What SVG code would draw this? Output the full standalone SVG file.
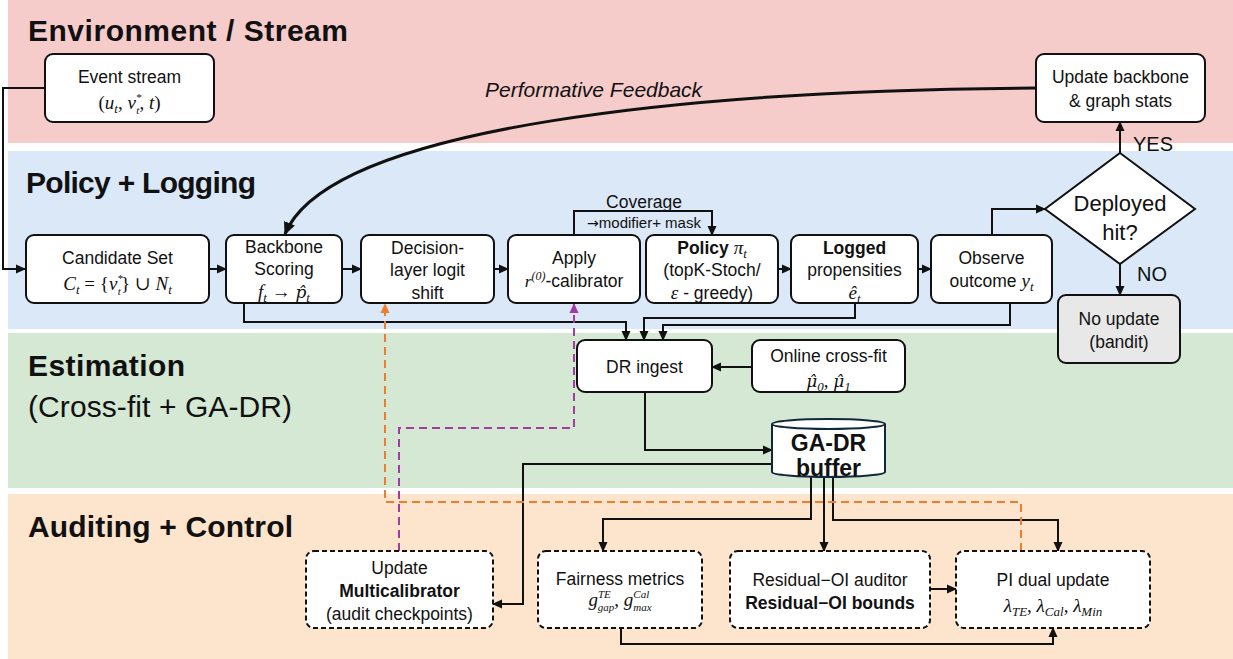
<svg xmlns="http://www.w3.org/2000/svg" width="1233" height="659" viewBox="0 0 1233 659">
<defs>
<style>
.t{font-family:"Liberation Sans",Arial,sans-serif;font-size:17.5px;fill:#111;text-anchor:middle}
.b{font-weight:bold}
.title{font-family:"Liberation Sans",Arial,sans-serif;font-size:30px;font-weight:bold;fill:#111}
.m{font-family:"Liberation Serif","DejaVu Serif",serif;font-style:italic;font-size:19px;fill:#111;text-anchor:middle}
.s{font-size:13px}
.x{font-size:11px}
.u{font-style:normal}
.h{font-family:"DejaVu Serif",serif;font-size:17px}
.box{fill:#fff;stroke:#111;stroke-width:2}
.dbox{fill:#fff;stroke:#111;stroke-width:2;stroke-dasharray:5 3}
.c{fill:none;stroke:#111;stroke-width:2}
.do{fill:none;stroke:#ED7D31;stroke-width:2;stroke-dasharray:8 5}
.dp{fill:none;stroke:#A33BA3;stroke-width:2;stroke-dasharray:8 5}
</style>
<marker id="a" viewBox="0 0 10 10" refX="9" refY="5" markerWidth="10" markerHeight="10" markerUnits="userSpaceOnUse" orient="auto"><path d="M0,0.5 L10,5 L0,9.5 Z" fill="#111"/></marker>
<marker id="ab" viewBox="0 0 10 10" refX="9" refY="5" markerWidth="13" markerHeight="13" markerUnits="userSpaceOnUse" orient="auto"><path d="M0,0.5 L10,5 L0,9.5 Z" fill="#111"/></marker>
<marker id="ao" viewBox="0 0 10 10" refX="9" refY="5" markerWidth="10" markerHeight="10" markerUnits="userSpaceOnUse" orient="auto"><path d="M0,0.5 L10,5 L0,9.5 Z" fill="#ED7D31"/></marker>
<marker id="ap" viewBox="0 0 10 10" refX="9" refY="5" markerWidth="10" markerHeight="10" markerUnits="userSpaceOnUse" orient="auto"><path d="M0,0.5 L10,5 L0,9.5 Z" fill="#A33BA3"/></marker>
</defs>

<g id="bands">
<rect x="8" y="0" width="1225" height="143" fill="#F6CCCB"/>
<rect x="8" y="151" width="1225" height="178" fill="#DAE8F8"/>
<rect x="8" y="333" width="1225" height="155" fill="#D5E8D4"/>
<rect x="8" y="494" width="1225" height="165" fill="#FDE4CC"/>
<text class="title" x="28" y="41" textLength="320">Environment / Stream</text>
<text class="title" x="26" y="193" textLength="230">Policy + Logging</text>
<text class="title" x="28" y="376" textLength="157">Estimation</text>
<text class="title" x="28" y="417" style="font-weight:normal" textLength="264">(Cross-fit + GA-DR)</text>
<text class="title" x="28" y="537" textLength="265">Auditing + Control</text>
</g>

<g id="connectors">
<path class="c" d="M45,88 H3 V269 H25" marker-end="url(#a)"/>
<path class="c" d="M209,269 H226" marker-end="url(#a)"/>
<path class="c" d="M342,269 H361" marker-end="url(#a)"/>
<path class="c" d="M494,269 H508" marker-end="url(#a)"/>
<path class="c" d="M574,235 V211 H712 V235" marker-end="url(#a)"/>
<path class="c" d="M778,269 H791" marker-end="url(#a)"/>
<path class="c" d="M918,269 H931" marker-end="url(#a)"/>
<path class="c" d="M992,235 V209 H1045" marker-end="url(#a)"/>
<path class="c" d="M1120,153 V122" marker-end="url(#a)"/>
<path class="c" d="M1120,264 V295" marker-end="url(#a)"/>
<path fill="none" stroke="#111" stroke-width="3" d="M1036,88 C700,90 330,125 285,234" marker-end="url(#ab)"/>
<path class="c" d="M244,303 V322 H626 V340" marker-end="url(#a)"/>
<path class="c" d="M855,303 V318 H644 V340" marker-end="url(#a)"/>
<path class="c" d="M1010,303 V325 H663 V340" marker-end="url(#a)"/>
<path class="c" d="M752,367 H712" marker-end="url(#a)"/>
<path class="c" d="M645,392 V450 H772" marker-end="url(#a)"/>
<path class="c" d="M772,464 H523 V604 H493" marker-end="url(#a)"/>
<path class="c" d="M811,477 V519 H603 V551" marker-end="url(#a)"/>
<path class="c" d="M824,477 V551" marker-end="url(#a)"/>
<path class="c" d="M833,477 V520 H1058 V551" marker-end="url(#a)"/>
<path class="c" d="M930,589 H956" marker-end="url(#a)"/>
<path class="c" d="M621,628 V644 H1053 V628" marker-end="url(#a)"/>
<path class="do" d="M1021,551 V502 H385 V304" marker-end="url(#ao)"/>
<path class="dp" d="M399,551 V428 H574 V304" marker-end="url(#ap)"/>
<text class="t" x="644" y="208">Coverage</text>
<text class="t" x="644" y="228" style="font-size:15px"><tspan style="font-family:'DejaVu Sans',sans-serif;font-size:14px">→</tspan>modifier+ mask</text>
<text x="485" y="97" style="font-family:'Liberation Sans',Arial,sans-serif;font-size:21px;font-style:italic;fill:#111">Performative Feedback</text>
<text x="1133" y="151" style="font-family:'Liberation Sans',Arial,sans-serif;font-size:20px;fill:#111">YES</text>
<text x="1137" y="281" style="font-family:'Liberation Sans',Arial,sans-serif;font-size:20px;fill:#111">NO</text>
</g>

<g id="event-stream">
<rect class="box" x="45" y="54" width="169" height="68" rx="8"/>
<text class="t" x="129.5" y="83">Event stream</text>
<text class="m" x="129.5" y="109"><tspan class="u">(</tspan>u<tspan class="s" dy="4">t</tspan><tspan class="u" dy="-4">, </tspan>v<tspan class="x" dy="-8">*</tspan><tspan class="x" dx="-5" dy="13">t</tspan><tspan class="u" dy="-5">, </tspan>t<tspan class="u">)</tspan></text>
</g>

<g id="update-backbone">
<rect class="box" x="1036" y="54" width="169" height="68" rx="8"/>
<text class="t" x="1120.5" y="83">Update backbone</text>
<text class="t" x="1120.5" y="107">&amp; graph stats</text>
</g>

<g id="candidate-set">
<rect class="box" x="26" y="235" width="183" height="68" rx="8"/>
<text class="t" x="117.5" y="264">Candidate Set</text>
<text class="m" x="117.5" y="290">C<tspan class="s" dy="4">t</tspan><tspan class="u" dy="-4"> = {</tspan>v<tspan class="x" dy="-8">*</tspan><tspan class="x" dx="-5" dy="13">t</tspan><tspan class="u" dy="-5">} ∪ </tspan>N<tspan class="s" dy="4">t</tspan></text>
</g>

<g id="backbone-scoring">
<rect class="box" x="226" y="235" width="116" height="68" rx="8"/>
<text class="t" x="284" y="253">Backbone</text>
<text class="t" x="284" y="275">Scoring</text>
<text class="m" x="284" y="298">f<tspan class="s" dy="4">t</tspan><tspan class="u" dy="-4"> → </tspan><tspan class="h">p̂</tspan><tspan class="s" dy="4">t</tspan></text>
</g>

<g id="decision-layer">
<rect class="box" x="361" y="235" width="133" height="68" rx="8"/>
<text class="t" x="427.5" y="254">Decision-</text>
<text class="t" x="427.5" y="276">layer logit</text>
<text class="t" x="427.5" y="299">shift</text>
</g>

<g id="apply-calibrator">
<rect class="box" x="508" y="235" width="132" height="68" rx="8"/>
<text class="t" x="574" y="264">Apply</text>
<text class="t" x="574" y="287"><tspan style="font-family:'Liberation Serif',serif;font-style:italic">r</tspan><tspan style="font-size:12px;font-family:'Liberation Serif',serif;font-style:italic" dy="-7">(0)</tspan><tspan dy="7">-calibrator</tspan></text>
</g>

<g id="policy">
<rect class="box" x="646" y="235" width="132" height="68" rx="8"/>
<text class="t" x="712" y="254"><tspan class="b">Policy </tspan><tspan style="font-family:'Liberation Serif',serif;font-style:italic;font-size:19px">π</tspan><tspan style="font-family:'Liberation Serif',serif;font-style:italic;font-size:13px" dy="4">t</tspan></text>
<text class="t" x="712" y="276">(topK-Stoch/</text>
<text class="t" x="712" y="299"><tspan style="font-family:'Liberation Serif',serif;font-style:italic;font-size:19px">ε</tspan> - greedy)</text>
</g>

<g id="logged-propensities">
<rect class="box" x="791" y="235" width="127" height="68" rx="8"/>
<text class="t b" x="854.5" y="254">Logged</text>
<text class="t" x="854.5" y="276">propensities</text>
<text class="m" x="854.5" y="299">ê<tspan class="s" dy="4">t</tspan></text>
</g>

<g id="observe-outcome">
<rect class="box" x="931" y="235" width="121" height="68" rx="8"/>
<text class="t" x="991.5" y="264">Observe</text>
<text class="t" x="991.5" y="287">outcome <tspan style="font-family:'Liberation Serif',serif;font-style:italic;font-size:19px">y</tspan><tspan style="font-family:'Liberation Serif',serif;font-style:italic;font-size:13px" dy="4">t</tspan></text>
</g>

<g id="deployed-hit">
<polygon points="1120,153 1195,209 1120,264 1045,209" fill="#fff" stroke="#111" stroke-width="2"/>
<text class="t" x="1120" y="211" style="font-size:22px">Deployed</text>
<text class="t" x="1120" y="240" style="font-size:22px">hit?</text>
</g>

<g id="no-update">
<rect x="1058" y="295" width="122" height="68" rx="8" fill="#E8E8E8" stroke="#111" stroke-width="2"/>
<text class="t" x="1119" y="325">No update</text>
<text class="t" x="1119" y="348">(bandit)</text>
</g>

<g id="dr-ingest">
<rect class="box" x="577" y="340" width="135" height="52" rx="8"/>
<text class="t" x="644.5" y="373">DR ingest</text>
</g>

<g id="online-cross-fit">
<rect class="box" x="752" y="340" width="153" height="52" rx="8"/>
<text class="t" x="828.5" y="362">Online cross-fit</text>
<text class="m" x="828.5" y="387"><tspan class="h">μ̂</tspan><tspan class="s" dy="4">0</tspan><tspan class="u" dy="-4">, </tspan><tspan class="h">μ̂</tspan><tspan class="s" dy="4">1</tspan></text>
</g>

<g id="ga-dr-buffer">
<path d="M772,424 V472 A56.5,5 0 0 0 885,472 V424 A56.5,5 0 0 0 772,424 Z" fill="#fff" stroke="#12283A" stroke-width="2"/>
<path d="M772,424 A56.5,5 0 0 0 885,424" fill="none" stroke="#12283A" stroke-width="2"/>
<text class="t b" x="828.5" y="451" style="font-size:23px">GA-DR</text>
<text class="t b" x="828.5" y="476" style="font-size:23px">buffer</text>
</g>

<g id="update-multicalibrator">
<rect class="dbox" x="306" y="551" width="187" height="77" rx="8"/>
<text class="t" x="399.5" y="574">Update</text>
<text class="t b" x="399.5" y="597">Multicalibrator</text>
<text class="t" x="399.5" y="620">(audit checkpoints)</text>
</g>

<g id="fairness-metrics">
<rect class="dbox" x="538" y="551" width="164" height="77" rx="8"/>
<text class="t" x="620" y="585">Fairness metrics</text>
<text class="m" x="620" y="606">g<tspan class="x" dy="-8">TE</tspan><tspan class="x" dx="-13" dy="13">gap</tspan><tspan class="u" dy="-5">, </tspan>g<tspan class="x" dy="-8">Cal</tspan><tspan class="x" dx="-16" dy="13">max</tspan></text>
</g>

<g id="residual-oi-auditor">
<rect class="dbox" x="730" y="551" width="200" height="77" rx="8"/>
<text class="t" x="830" y="586">Residual−OI auditor</text>
<text class="t b" x="830" y="609">Residual−OI bounds</text>
</g>

<g id="pi-dual-update">
<rect class="dbox" x="956" y="551" width="194" height="77" rx="8"/>
<text class="t" x="1053" y="586">PI dual update</text>
<text class="m" x="1053" y="612">λ<tspan class="s" dy="4">TE</tspan><tspan class="u" dy="-4">, </tspan>λ<tspan class="s" dy="4">Cal</tspan><tspan class="u" dy="-4">, </tspan>λ<tspan class="s" dy="4">Min</tspan></text>
</g>
</svg>
